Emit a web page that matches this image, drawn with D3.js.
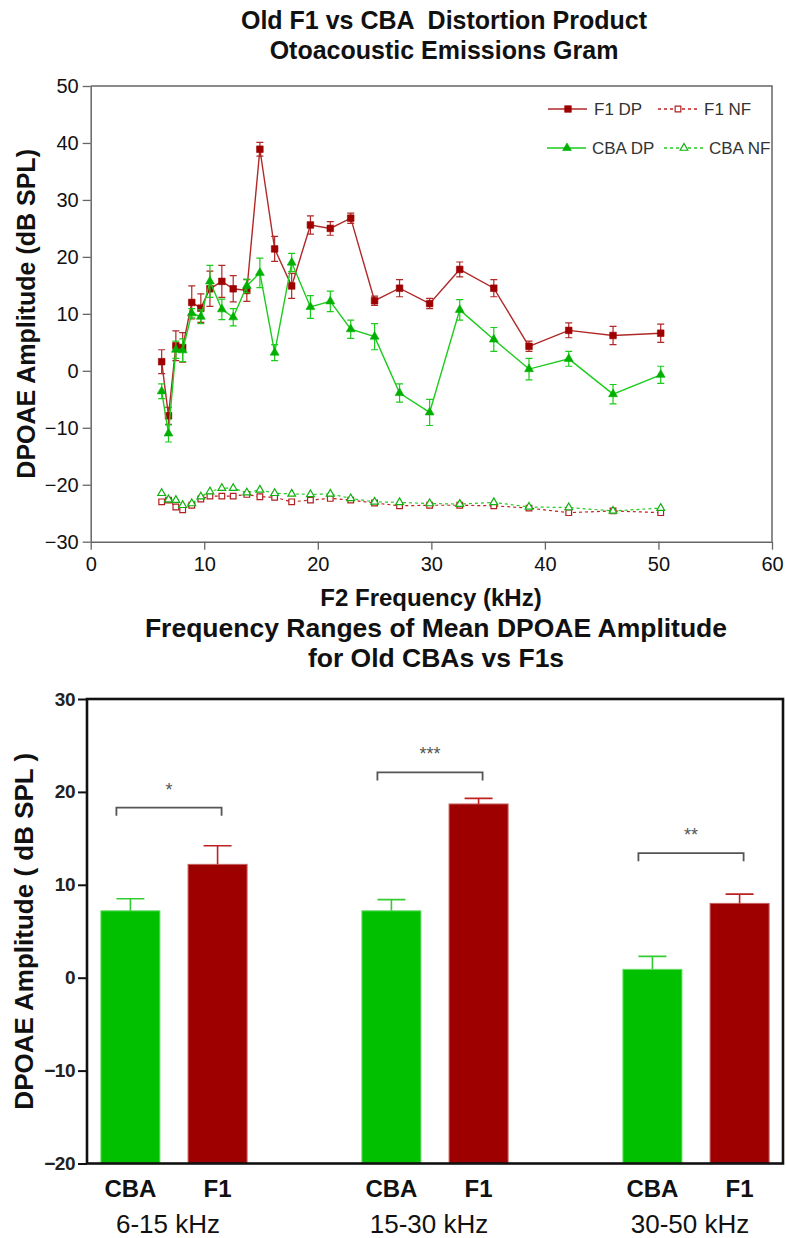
<!DOCTYPE html>
<html>
<head>
<meta charset="utf-8">
<script src="https://cdn.jsdelivr.net/npm/d3@7"></script>
<style>
  body { margin: 0; background: #fff; }
  svg { display: block; font-family: "Liberation Sans", Arial, sans-serif; }
  .ttl { white-space: pre; }
</style>
</head>
<body>
<svg id="chart" width="786" height="1238"></svg>
<script>
// ---- top chart data (F2 frequency in kHz, amplitude in dB SPL)
const freq = [6.25, 6.85, 7.5, 8.1, 8.9, 9.7, 10.5, 11.55, 12.55, 13.75, 14.9, 16.2, 17.7,
  19.35, 21.1, 22.9, 25.0, 27.2, 29.85, 32.5, 35.5, 38.6, 42.1, 46.0, 50.2];
const f1DP = [1.6, -7.9, 4.4, 4.1, 12.0, 11.0, 14.4, 15.7, 14.4, 14.1, 38.9, 21.4, 14.9,
  25.6, 25.0, 26.8, 12.3, 14.5, 11.8, 17.8, 14.5, 4.3, 7.1, 6.2, 6.6];
const f1DPerr = [2.1, 1.5, 2.6, 2.6, 2.9, 2.5, 3.1, 2.8, 2.3, 1.9, 1.2, 2.2, 2.2,
  1.6, 1.2, 0.9, 0.8, 1.5, 0.9, 1.3, 1.5, 0.9, 1.3, 1.6, 1.6];
const cbaDP = [-3.6, -11.0, 3.7, 3.6, 10.1, 9.5, 15.7, 10.8, 9.4, 14.9, 17.2, 3.2, 19.0,
  11.2, 12.2, 7.3, 6.0, -3.9, -7.3, 10.7, 5.5, 0.3, 2.1, -4.1, -0.7];
const cbaDPerr = [1.3, 1.5, 1.5, 2.0, 0.8, 1.2, 2.8, 1.8, 1.5, 1.2, 2.6, 1.4, 1.6,
  2.0, 1.8, 1.6, 2.3, 1.6, 2.3, 1.8, 2.1, 1.9, 1.3, 1.7, 1.5];
const f1NF = [-23.0, -22.7, -23.9, -24.4, -23.6, -22.5, -22.0, -22.0, -22.0, -21.7, -22.1, -22.2, -23.0,
  -22.7, -22.4, -22.7, -23.2, -23.7, -23.6, -23.6, -23.7, -24.1, -24.9, -24.6, -24.9];
const cbaNF = [-21.5, -22.6, -22.7, -23.6, -23.3, -22.1, -21.2, -20.6, -20.6, -21.4, -20.9, -21.5, -21.6,
  -21.7, -21.6, -22.4, -23.0, -23.1, -23.3, -23.4, -23.1, -23.9, -24.0, -24.6, -24.1];
const xTicks = [0, 10, 20, 30, 40, 50, 60];
const yTicks = [-30, -20, -10, 0, 10, 20, 30, 40, 50];

// ---- bottom chart data
const groups = ["6-15 kHz", "15-30 kHz", "30-50 kHz"];
const strains = ["CBA", "F1"];
const cbaMean = [7.2, 7.2, 0.9];
const cbaSem = [1.3, 1.2, 1.4];
const f1Mean = [12.2, 18.7, 8.0];
const f1Sem = [2.0, 0.6, 1.0];
const sigLabels = ["*", "***", "**"];
const sigLevel = [18.3, 22.1, 13.4];
const barTicks = [-20, -10, 0, 10, 20, 30];

const RED = "#9e0000", GREEN = "#00c000";

const svg = d3.select("#chart");

// titles
function title(lines, cx, y0, size) {
  lines.forEach((t, i) => {
    svg.append("text").attr("class", "ttl").attr("x", cx).attr("y", y0 + i * 30)
      .attr("text-anchor", "middle").attr("font-weight", "bold")
      .attr("font-size", size).attr("fill", "#111").text(t);
  });
}
title(["Old F1 vs CBA  Distortion Product", "Otoacoustic Emissions Gram"], 444, 29, 25);

// ================= top line chart =================
const x = d3.scaleLinear().domain([0, 60]).range([90.7, 772]);
const y = d3.scaleLinear().domain([-30, 50]).range([541.7, 86]);
const axisCol = "#666";

const gx = svg.append("g").attr("transform", `translate(0,${y(-30)})`)
  .call(d3.axisBottom(x).tickValues(xTicks).tickSize(8).tickSizeOuter(0).tickPadding(7));
const gy = svg.append("g").attr("transform", `translate(${x(0)},0)`)
  .call(d3.axisLeft(y).tickValues(yTicks).tickSize(8).tickSizeOuter(0).tickPadding(4));
[gx, gy].forEach(g => {
  g.select(".domain").attr("stroke", axisCol).attr("stroke-width", 1.5);
  g.selectAll(".tick line").attr("stroke", axisCol).attr("stroke-width", 1.3);
  g.selectAll(".tick text").attr("fill", "#111")
    .style("font-size", "20px").style("font-family", "Liberation Sans, Arial, sans-serif");
});
// frame top / right
svg.append("path").attr("fill", "none").attr("stroke", axisCol).attr("stroke-width", 1.5)
  .attr("d", `M${x(0)},${y(50)}H${x(60)}V${y(-30)}`);

svg.append("text").attr("transform", `translate(35,${(y(50) + y(-30)) / 2}) rotate(-90)`)
  .attr("text-anchor", "middle").attr("font-weight", "bold").attr("font-size", 25)
  .attr("fill", "#111").text("DPOAE Amplitude (dB SPL)");
svg.append("text").attr("x", 431).attr("y", 606).attr("text-anchor", "middle")
  .attr("font-weight", "bold").attr("font-size", 24).attr("fill", "#111").text("F2 Frequency (kHz)");

const series = [
  { name: "F1 NF", vals: f1NF, line: "#c02020", mark: "#b02020", dash: "3,3", shape: "square", open: true },
  { name: "CBA NF", vals: cbaNF, line: "#22cc22", mark: "#10b010", dash: "3,3", shape: "triangle", open: true },
  { name: "F1 DP", vals: f1DP, err: f1DPerr, line: "#b02828", mark: RED, dash: null, shape: "square", open: false },
  { name: "CBA DP", vals: cbaDP, err: cbaDPerr, line: "#1ccc1c", mark: "#00b000", dash: null, shape: "triangle", open: false }
];

const lineGen = d3.line().x(d => x(d.f)).y(d => y(d.v));
const sq = d3.symbol(d3.symbolSquare, 44), sqOpen = d3.symbol(d3.symbolSquare, 32);
const tri = d3.symbol(d3.symbolTriangle, 34), triOpen = d3.symbol(d3.symbolTriangle, 26);

function marker(g, s, px, py) {
  const gen = s.shape === "square" ? (s.open ? sqOpen : sq) : (s.open ? triOpen : tri);
  g.append("path").attr("d", gen()).attr("transform", `translate(${px},${py})`)
    .attr("fill", s.open ? "#fff" : s.mark).attr("stroke", s.mark)
    .attr("stroke-width", s.open ? 1.2 : 0.6);
}

series.forEach(s => {
  const pts = freq.map((f, i) => ({ f, v: s.vals[i], e: s.err ? s.err[i] : 0 }));
  const g = svg.append("g");
  g.append("path").datum(pts).attr("d", lineGen).attr("fill", "none")
    .attr("stroke", s.line).attr("stroke-width", s.dash ? 1.2 : 1.4)
    .attr("stroke-dasharray", s.dash);
  if (s.err) {
    pts.forEach(p => {
      const px = x(p.f), y1 = y(p.v + p.e), y0 = y(p.v - p.e);
      g.append("path").attr("fill", "none").attr("stroke", s.line).attr("stroke-width", 1.2)
        .attr("d", `M${px},${y0}V${y1}M${px - 3.5},${y1}H${px + 3.5}M${px - 3.5},${y0}H${px + 3.5}`);
    });
  }
  pts.forEach(p => marker(g, s, x(p.f), y(p.v)));
});

// legend
svg.append("clipPath").attr("id", "legclip").append("rect")
  .attr("x", 0).attr("y", 0).attr("width", x(60) - 0.8).attr("height", 600);
const leg = svg.append("g").attr("clip-path", "url(#legclip)");
const legPos = { "F1 DP": [548, 109, 594], "F1 NF": [658, 109, 704], "CBA DP": [547, 148, 592], "CBA NF": [664, 148, 709] };
series.forEach(s => {
  const [lx, ly, tx] = legPos[s.name];
  leg.append("line").attr("x1", lx).attr("x2", lx + 39).attr("y1", ly).attr("y2", ly)
    .attr("stroke", s.line).attr("stroke-width", 1.4).attr("stroke-dasharray", s.dash);
  marker(leg, s, lx + 20, ly);
  leg.append("text").attr("x", tx).attr("y", ly + 6).attr("font-size", 17)
    .attr("fill", "#333").text(s.name);
});

// ================= bottom bar chart =================
title(["Frequency Ranges of Mean DPOAE Amplitude", "for Old CBAs vs F1s"], 436, 637, 26.5);

const y2 = d3.scaleLinear().domain([-20, 30]).range([1163.5, 699]);
const xg = d3.scalePoint().domain(groups).range([87, 783]).padding(0.3333);
const xs = d3.scaleBand().domain(strains).range([-73.1, 73.1]).paddingInner(0.323);
const bw = xs.bandwidth();

const barData = groups.flatMap((g, i) => [
  { g, s: "CBA", v: cbaMean[i], e: cbaSem[i], fill: GREEN, edge: "#66dd66" },
  { g, s: "F1", v: f1Mean[i], e: f1Sem[i], fill: RED, edge: "#c86060" }
]);

svg.append("g").selectAll("rect").data(barData).join("rect")
  .attr("x", d => xg(d.g) + xs(d.s)).attr("width", bw)
  .attr("y", d => y2(d.v)).attr("height", d => y2(-20) - y2(d.v))
  .attr("fill", d => d.fill).attr("stroke", d => d.edge).attr("stroke-width", 1);

svg.append("g").selectAll("path").data(barData).join("path")
  .attr("fill", "none").attr("stroke", d => d.s === "CBA" ? "#33cc33" : "#c02020").attr("stroke-width", 1.6)
  .attr("d", d => {
    const cx = xg(d.g) + xs(d.s) + bw / 2, top = y2(d.v + d.e);
    return `M${cx},${y2(d.v)}V${top}M${cx - 14},${top}H${cx + 14}`;
  });

// significance brackets
groups.forEach((g, i) => {
  const xl = xg(g) + xs("CBA") + bw / 2 - 14, xr = xg(g) + xs("F1") + bw / 2 + 4;
  const yb = y2(sigLevel[i]);
  svg.append("path").attr("fill", "none").attr("stroke", "#555").attr("stroke-width", 1.8)
    .attr("d", `M${xl},${yb + 8}V${yb}H${xr}V${yb + 8}`);
  svg.append("text").attr("x", (xl + xr) / 2).attr("y", yb - 12).attr("text-anchor", "middle")
    .attr("font-size", 18).attr("fill", "#555").text(sigLabels[i]);
});

// axes and frame
const gy2 = svg.append("g").attr("transform", `translate(87,0)`)
  .call(d3.axisLeft(y2).tickValues(barTicks).tickSize(9).tickSizeOuter(0).tickPadding(3));
gy2.select(".domain").remove();
gy2.selectAll(".tick line").attr("stroke", "#111").attr("stroke-width", 2);
gy2.selectAll(".tick text").attr("fill", "#222")
  .style("font-size", "19px").style("font-weight", "bold").style("letter-spacing", "-0.5px")
  .style("font-family", "Liberation Sans, Arial, sans-serif");
svg.append("rect").attr("x", 87).attr("y", y2(30)).attr("width", 783 - 87)
  .attr("height", y2(-20) - y2(30)).attr("fill", "none").attr("stroke", "#111").attr("stroke-width", 2.6);

// category labels
barData.forEach(d => {
  svg.append("text").attr("x", xg(d.g) + xs(d.s) + bw / 2).attr("y", 1197)
    .attr("text-anchor", "middle").attr("font-weight", "bold").attr("font-size", 24)
    .attr("fill", "#111").text(d.s);
});
groups.forEach(g => {
  svg.append("text").attr("x", xg(g) - 6).attr("y", 1233).attr("text-anchor", "middle")
    .attr("font-size", 26).attr("fill", "#111").text(g);
});

svg.append("text").attr("transform", `translate(33,${(y2(30) + y2(-20)) / 2}) rotate(-90)`)
  .attr("text-anchor", "middle").attr("font-weight", "bold").attr("font-size", 26)
  .attr("fill", "#111").text("DPOAE Amplitude ( dB SPL )");
</script>
</body>
</html>
